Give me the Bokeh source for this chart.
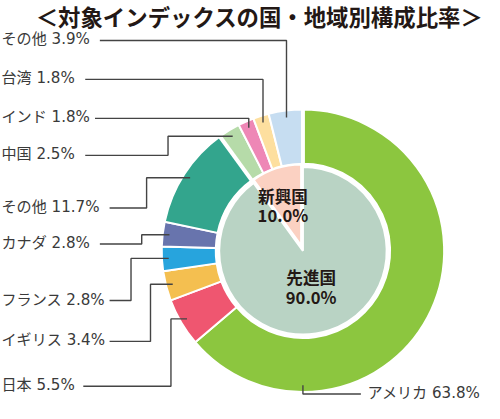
import numpy as np
from bokeh.plotting import figure
from bokeh.models import Range1d, ColumnDataSource
from bokeh.core.properties import value
from bokeh.embed import file_html
from bokeh.resources import INLINE

# ---------------- data ----------------
title = "＜対象インデックスの国・地域別構成比率＞"
names = ["アメリカ", "日本", "イギリス", "フランス", "カナダ", "その他",
         "中国", "インド", "台湾", "その他"]
shares = [63.8, 5.5, 3.4, 2.8, 2.8, 11.7, 2.5, 1.8, 1.8, 3.9]
colors = ["#8CC63F", "#EF5670", "#F4BF50", "#27A4DD", "#6874AD", "#33A58D",
          "#B6DBA9", "#EE87B6", "#FDDF9F", "#C6DDF1"]
groups = ["先進国", "新興国"]
group_shares = [90.0, 10.0]
group_colors = ["#B9D3C4", "#FBD1C2"]

# ---------------- layout (reference pixel space, 500x419) ----------------
H = 419
S = 0.974                      # reference px -> canvas px
X0, YTOP = 1.0, 3.0
CX, CY = 311.5, 260.0
R_OUT, R_IN, R_PIE = 145.0, 89.5, 86.0
R_ANCHOR = 138.0
label_y = [407, 399, 353, 311, 253, 216, 162, 124, 84, 44]
text_x = [494, 2, 2, 2, 2, 2, 2, 2, 2, 2]
line_end = [371, 86, 113, 113, 103, 113, 88, 98, 88, 103]
elbow_x = [None, 176, 155, 135, 146, 151, 173, None, None, None]
anchor_frac = [0.5, None, None, None, None, None, None, None, None, None]

def Y(y):
    return H - y

def fs(px):
    return f"{px * S:.1f}px"

cy = Y(CY)

p = figure(width=484, height=403,
           x_range=Range1d(X0, X0 + 484 / S),
           y_range=Range1d(Y(YTOP + 403 / S), Y(YTOP)),
           output_backend="svg", toolbar_location=None, min_border=0)
p.axis.visible = False
p.grid.visible = False
p.outline_line_color = None
p.background_fill_color = "white"

# outer ring
fr = np.array(shares) / 100.0
cum_end = np.cumsum(fr)
cum_start = cum_end - fr
start = np.pi / 2 - 2 * np.pi * cum_start
end = np.pi / 2 - 2 * np.pi * cum_end
src = ColumnDataSource(dict(start=start, end=end, color=colors))
p.annular_wedge(x=CX, y=cy, inner_radius=R_IN, outer_radius=R_OUT,
                start_angle="start", end_angle="end", direction="clock",
                fill_color="color", line_color="white", line_width=2, source=src)

# inner pie
gfr = np.array(group_shares) / 100.0
gend = np.cumsum(gfr)
gstart = gend - gfr
g_sa = np.pi / 2 - 2 * np.pi * gstart
g_ea = np.pi / 2 - 2 * np.pi * gend
p.wedge(x=CX, y=cy, radius=R_PIE, start_angle=g_sa[0], end_angle=g_ea[0],
        direction="clock", fill_color=group_colors[0], line_color="white", line_width=2)
mid = (g_sa[1] + g_ea[1]) / 2
off = 6.0
ex, ey = CX + off * np.cos(mid), cy + off * np.sin(mid)
p.wedge(x=ex, y=ey, radius=R_PIE - 3, start_angle=g_sa[1], end_angle=g_ea[1],
        direction="clock", fill_color=group_colors[1], line_color="white", line_width=2)

# wider white gaps between developed and emerging groups in the ring
for a in [g_sa[1], g_ea[1]]:
    p.segment(x0=CX + (R_IN - 2) * np.cos(a), y0=cy + (R_IN - 2) * np.sin(a),
              x1=CX + (R_OUT + 2) * np.cos(a), y1=cy + (R_OUT + 2) * np.sin(a),
              line_color="white", line_width=4)

# leader lines
xs, ys = [], []
for i in range(len(names)):
    f = anchor_frac[i] if anchor_frac[i] is not None else (cum_start[i] + cum_end[i]) / 2
    ang = np.pi / 2 - 2 * np.pi * f
    ax, ay = CX + R_ANCHOR * np.cos(ang), cy + R_ANCHOR * np.sin(ang)
    exx = elbow_x[i] if elbow_x[i] is not None else ax
    ly = Y(label_y[i])
    xs.append([ax, exx, exx, line_end[i]])
    ys.append([ay, ay, ly, ly])
p.multi_line(xs=xs, ys=ys, line_color="#444444", line_width=1.4)

# labels
lab = [f"{n} {s:.1f}%" for n, s in zip(names, shares)]
font_lab = value("DejaVu Sans, Noto Sans CJK JP")
p.text(x=text_x[1:], y=[Y(v) + 1 for v in label_y[1:]], text=lab[1:], text_align="left",
       text_baseline="middle", text_font=font_lab,
       text_font_size=fs(15.5), text_color="#3a3a3a")
p.text(x=text_x[:1], y=[Y(v) + 1 for v in label_y[:1]], text=lab[:1], text_align="right",
       text_baseline="middle", text_font=font_lab,
       text_font_size=fs(15.5), text_color="#3a3a3a")

# inner labels
p.text(x=[291, 291], y=[Y(204), Y(223)], text=[groups[1], f"{group_shares[1]:.1f}%"],
       text_align="center", text_baseline="middle", text_font=value("Noto Sans CJK JP"),
       text_font_size=fs(17), text_font_style="bold", text_color="#231815")
p.text(x=[320, 320], y=[Y(287), Y(307)], text=[groups[0], f"{group_shares[0]:.1f}%"],
       text_align="center", text_baseline="middle", text_font=value("Noto Sans CJK JP"),
       text_font_size=fs(17), text_font_style="bold", text_color="#231815")

# title
p.text(x=[267], y=[Y(19)], text=[title], text_align="center", text_baseline="middle",
       text_font=value("Noto Sans CJK JP"), text_font_size=fs(23),
       text_font_style="bold", text_color="#231815")

open("out.html", "w").write(file_html(p, INLINE))
